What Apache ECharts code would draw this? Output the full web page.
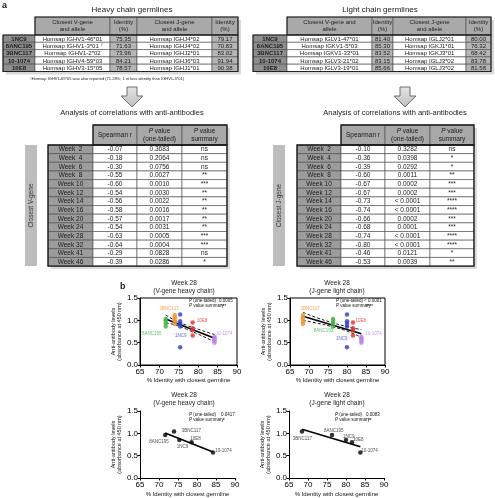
<!DOCTYPE html>
<html><head><meta charset="utf-8">
<script src="https://cdn.jsdelivr.net/npm/echarts@6/dist/echarts.min.js"></script>
<style>html,body{margin:0;padding:0;background:#fff}#c{width:495px;height:498px}</style>
</head><body><div id="c"></div>
<script>
// ---------- DATA ----------
const antibodies = ['1NC9', '8ANC195', '3BNC117', '10-1074', '10E8'];
const heavyV = ['Homsap IGHV1-46*01', 'Homsap IGHV1-3*01', 'Homsap IGHV1-2*02', 'Homsap IGHV4-59*03', 'Homsap IGHV3-15*05'];
const heavyVId = [75.35, 71.63, 73.96, 84.21, 78.57];
const heavyJ = ['Homsap IGHJ4*02', 'Homsap IGHJ4*02', 'Homsap IGHJ2*01', 'Homsap IGHJ6*03', 'Homsap IGHJ1*01'];
const heavyJId = [79.17, 70.83, 83.02, 91.94, 90.38];
const lightV = ['Homsap IGLV1-47*01', 'Homsap IGKV1-5*03', 'Homsap IGKV1-33*01', 'Homsap IGLV3-21*02', 'Homsap IGLV3-19*01'];
const lightVId = [81.40, 85.30, 83.52, 83.15, 85.66];
const lightJ = ['Homsap IGLJ2*01', 'Homsap IGKJ1*01', 'Homsap IGKJ3*01', 'Homsap IGLJ3*02', 'Homsap IGLJ3*02'];
const lightJId = [80.00, 76.32, 68.42, 83.78, 81.58];

const weeks = ['Week  2', 'Week  4', 'Week  6', 'Week  8', 'Week 10', 'Week 12', 'Week 14', 'Week 16', 'Week 20', 'Week 24', 'Week 28', 'Week 32', 'Week 41', 'Week 46'];
const vR = ['-0.07', '-0.18', '-0.30', '-0.55', '-0.60', '-0.54', '-0.56', '-0.58', '-0.57', '-0.54', '-0.63', '-0.64', '-0.29', '-0.39'];
const vP = ['0.3683', '0.2064', '0.0756', '0.0027', '0.0010', '0.0030', '0.0022', '0.0016', '0.0017', '0.0031', '0.0005', '0.0004', '0.0828', '0.0286'];
const vSum = ['ns', 'ns', 'ns', '**', '***', '**', '**', '**', '**', '**', '***', '***', 'ns', '*'];
const jR = ['-0.10', '-0.36', '-0.39', '-0.60', '-0.67', '-0.67', '-0.73', '-0.74', '-0.66', '-0.68', '-0.74', '-0.80', '-0.46', '-0.53'];
const jP = ['0.3282', '0.0398', '0.0292', '0.0011', '0.0002', '0.0002', '< 0.0001', '< 0.0001', '0.0002', '0.0001', '< 0.0001', '< 0.0001', '0.0121', '0.0039'];
const jSum = ['ns', '*', '*', '**', '***', '***', '****', '****', '***', '***', '****', '****', '*', '**'];

// week 28 replicate anti-antibody levels (absorbance), in antibody order
const rep1NC9 = [1.13, 0.98, 0.93, 0.86, 0.40];
const rep8ANC195 = [1.03, 0.99, 0.93, 0.86];
const rep3BNC117 = [1.12, 1.07, 1.03, 0.97, 0.92];
const rep101074 = [0.63, 0.60, 0.57, 0.53, 0.50];
const rep10E8 = [0.95, 0.82, 0.78, 0.66];
// week 28 mean levels, antibody order
const meanW28 = [0.85, 0.96, 1.04, 0.57, 0.80];

// regression fits: [y at min x, y at max x]
const fitTL = [1.03, 0.60];
const fitTR = [1.09, 0.70];
const fitBL = [1.01, 0.58];
const fitBR = [1.09, 0.70];
// 95% CI bands (x, y)
const ciTLx = [71.63, 74, 77, 80, 84.21];
const ciTLup = [1.12, 1.00, 0.89, 0.80, 0.68];
const ciTLlo = [0.94, 0.90, 0.80, 0.69, 0.52];
const ciTRx = [68.42, 72, 76, 80, 83.78];
const ciTRup = [1.18, 1.06, 0.95, 0.86, 0.79];
const ciTRlo = [1.00, 0.94, 0.86, 0.76, 0.62];

const pTL = ['0.0005', '***'];
const pTR = ['< 0.0001', '****'];
const pBL = ['0.0417', '*'];
const pBR = ['0.0083', '**'];

// ---------- STYLE ----------
const FONT = '"Liberation Sans", Arial, sans-serif';
const abColor = {'1NC9': '#2e3fc6', '8ANC195': '#3cb43c', '3BNC117': '#f29330', '10-1074': '#b983ea', '10E8': '#e1302c'};
const reps = {'1NC9': rep1NC9, '8ANC195': rep8ANC195, '3BNC117': rep3BNC117, '10-1074': rep101074, '10E8': rep10E8};

// label anchor positions (data coords) for antibody names
const labTL = {'3BNC117': [72.5, 1.26], '8ANC195': [68.0, 0.71], '1NC9': [75.5, 0.66], '10E8': [81.0, 0.98], '10-1074': [86.7, 0.71]};
const labTR = {'3BNC117': [70.3, 1.27], '8ANC195': [73.8, 0.76], '1NC9': [78.6, 0.59], '10E8': [83.6, 0.98], '10-1074': [87.0, 0.70]};
const labBL = {'3BNC117': [78.5, 1.06], '8ANC195': [70.0, 0.82], '1NC9': [76.2, 0.69], '10E8': [79.6, 0.88], '10-1074': [87.0, 0.62]};
const labBR = {'3BNC117': [68.5, 0.88], '8ANC195': [76.8, 1.06], '1NC9': [80.7, 0.93], '10E8': [83.2, 0.86], '10-1074': [86.2, 0.62]};

// ---------- GRAPHIC HELPERS ----------
function txt(x, y, text, size, o) {
  o = o || {};
  const st = {text: text, fontSize: size, fontFamily: FONT, fill: o.fill || '#1a1a1a',
    align: o.align || 'center', verticalAlign: o.va || 'middle',
    fontWeight: o.bold ? 'bold' : 'normal', fontStyle: o.italic ? 'italic' : 'normal',
    lineHeight: o.lh || Math.round(size * 1.15)};
  if (o.rich) st.rich = o.rich;
  return {type: 'text', x: x, y: y, rotation: o.rot || 0, silent: true, z: 10, style: st};
}
function rect(x, y, w, h, fill, stroke, lw, z) {
  return {type: 'rect', silent: true, z: z || 5, shape: {x: x, y: y, width: w, height: h},
    style: {fill: fill, stroke: stroke || null, lineWidth: lw || 0}};
}
function richItal(size) {
  return {i: {fontStyle: 'italic', fontSize: size, fontFamily: FONT, fill: '#1a1a1a'},
          n: {fontSize: size, fontFamily: FONT, fill: '#1a1a1a'}};
}

const G = [];
// panel letters
G.push(txt(2, 6, 'a', 9, {bold: true, align: 'left'}));
G.push(txt(120, 287, 'b', 9, {bold: true, align: 'left'}));

function germTable(edges, yTop, headH, rowH, headers, colV, colVId, colJ, colJId, fs) {
  const x0 = edges[0], x1 = edges[5];
  const nRows = antibodies.length;
  const yBody = yTop + headH;
  // shadow
  G.push(rect(edges[1] + 3, yTop + 3, x1 - edges[1], headH, '#d8d8d8', null, 0, 2));
  G.push(rect(x0 + 3, yBody + 3, x1 - x0, rowH * nRows, '#d8d8d8', null, 0, 2));
  // header
  for (let c = 1; c <= 4; c++) {
    G.push(rect(edges[c], yTop, edges[c + 1] - edges[c], headH, '#a9a9a9', '#4a4a4a', 0.6));
    G.push(txt((edges[c] + edges[c + 1]) / 2, yTop + headH / 2, headers[c - 1], fs, {fill: '#222', lh: fs + 1}));
  }
  for (let r = 0; r < nRows; r++) {
    const y = yBody + r * rowH;
    const cells = [antibodies[r], colV[r], colVId[r].toFixed(2), colJ[r], colJId[r].toFixed(2)];
    const fills = ['#8e8e8e', '#ffffff', '#b5b5b5', '#ffffff', '#b5b5b5'];
    for (let c = 0; c < 5; c++) {
      G.push(rect(edges[c], y, edges[c + 1] - edges[c], rowH, fills[c], '#4a4a4a', 0.6));
      let t = cells[c];
      const o = {fill: '#1a1a1a'};
      if (c === 0) { o.bold = true; }
      if (c === 1 && t === 'Homsap IGHV1-3*01') {
        o.rich = {n: {fontSize: fs, fontFamily: FONT, fill: '#1a1a1a'}, s: {fontSize: fs - 2, fontFamily: FONT, fill: '#1a1a1a', verticalAlign: 'top'}};
        t = '{n|' + t + ' }{s|#}';
      }
      G.push(txt((edges[c] + edges[c + 1]) / 2, y + rowH / 2 + 0.3, t, fs, o));
    }
  }
  G.push(rect(x0, yBody, x1 - x0, rowH * nRows, null, '#222', 1.1, 6));
  G.push(rect(edges[1], yTop, x1 - edges[1], headH, null, '#222', 1.1, 6));
}

const heavyEdges = [3, 35, 110, 137, 212, 238];
const lightEdges = [253, 287, 372, 393, 466, 491];
G.push(txt(132, 10, 'Heavy chain germlines', 8));
G.push(txt(380, 10, 'Light chain germlines', 8));
germTable(heavyEdges, 17, 18, 7.3, ['Closest V-gene\nand allele', 'Identity\n(%)', 'Closest J-gene\nand allele', 'Identity\n(%)'],
  heavyV, heavyVId, heavyJ, heavyJId, 6);
germTable(lightEdges, 17, 18, 7.3, ['Closest V-gene and\nallele', 'Identity\n(%)', 'Closest J-gene\nand allele', 'Identity\n(%)'],
  lightV, lightVId, lightJ, lightJId, 6);
// footnote
G.push(txt(30, 79, '{s|#}{n|Homsap IGHV1-69*05 was also reported (71.28%; 1 nt less identity than IGHV1-3*01)}', 4, {align: 'left',
  rich: {n: {fontSize: 4, fontFamily: FONT, fill: '#222'}, s: {fontSize: 3, fontFamily: FONT, fill: '#222'}}}));

// arrows
function arrow(cx, y0) {
  G.push({type: 'polygon', silent: true, z: 5, shape: {points: [[cx - 5, y0], [cx + 5, y0], [cx + 5, y0 + 9], [cx + 11, y0 + 9], [cx, y0 + 20], [cx - 11, y0 + 9], [cx - 5, y0 + 9]]},
    style: {fill: {type: 'linear', x: 0, y: 0, x2: 0, y2: 1, colorStops: [{offset: 0, color: '#e6e6e6'}, {offset: 1, color: '#bdbdbd'}]}, stroke: '#6e6e6e', lineWidth: 1}});
}
arrow(132, 87);
arrow(405, 87);
G.push(txt(132, 113, 'Analysis of correlations with anti-antibodies', 7.5));
G.push(txt(395, 113, 'Analysis of correlations with anti-antibodies', 7.5));

function corrTable(barX, edges, R, P, S, barLabel) {
  const yTop = 125, headH = 20, rowH = 8.65, n = weeks.length;
  const yBody = yTop + headH;
  const fs = 6.5;
  // side bar
  G.push(rect(barX, yBody, 12, rowH * n, '#bdbdbd', null, 0, 4));
  G.push(txt(barX + 6, yBody + rowH * n / 2, barLabel, 6.5, {rot: Math.PI / 2, fill: '#333'}));
  // shadows
  G.push(rect(edges[1] + 3, yTop + 3, edges[4] - edges[1], headH, '#dcdcdc', null, 0, 2));
  G.push(rect(edges[0] + 3, yBody + 3, edges[4] - edges[0], rowH * n, '#dcdcdc', null, 0, 2));
  const heads = ['Spearman r', '{i|P}{n| value}\n{n|(one-tailed)}', '{i|P}{n| value}\n{n|summary}'];
  for (let c = 1; c <= 3; c++) {
    G.push(rect(edges[c], yTop, edges[c + 1] - edges[c], headH, '#a8a8a8', '#4a4a4a', 0.6));
    const o = {lh: 8};
    if (c > 1) o.rich = richItal(fs);
    G.push(txt((edges[c] + edges[c + 1]) / 2, yTop + headH / 2, heads[c - 1], fs, o));
  }
  for (let r = 0; r < n; r++) {
    const y = yBody + r * rowH;
    const cells = [weeks[r], R[r], P[r], S[r]];
    for (let c = 0; c < 4; c++) {
      G.push(rect(edges[c], y, edges[c + 1] - edges[c], rowH, c === 0 ? '#9c9c9c' : '#ffffff', '#4a4a4a', 0.6));
      G.push(txt((edges[c] + edges[c + 1]) / 2, y + rowH / 2 + 0.3, cells[c], fs, {fill: '#1a1a1a'}));
    }
  }
  G.push(rect(edges[0], yBody, edges[4] - edges[0], rowH * n, null, '#1a1a1a', 1.3, 6));
  G.push(rect(edges[1], yTop, edges[4] - edges[1], headH, null, '#1a1a1a', 1.3, 6));
}
corrTable(25, [48, 93, 137, 182, 227], vR, vP, vSum, 'Closest V-gene');
corrTable(273, [297, 341, 385, 430, 474], jR, jP, jSum, 'Closest J-gene');

// plot titles
function plotTitle(cx, y, sub) {
  G.push(txt(cx, y, 'Week 28', 6.5));
  G.push(txt(cx, y + 8, sub, 6.5));
}
plotTitle(184, 283, '(V-gene heavy chain)');
plotTitle(337, 283, '(J-gene light chain)');
plotTitle(184, 395, '(V-gene heavy chain)');
plotTitle(337, 395, '(J-gene light chain)');

// P annotations
function pAnno(x, xv, y, p) {
  const rich = {i: {fontStyle: 'italic', fontSize: 4.5, fontFamily: FONT, fill: '#111'}, n: {fontSize: 4.5, fontFamily: FONT, fill: '#111'}};
  G.push(txt(x, y, '{i|P}{n| (one-tailed)}', 4.5, {align: 'left', rich: rich}));
  G.push(txt(x, y + 5, '{i|P}{n| value summary}', 4.5, {align: 'left', rich: rich}));
  G.push(txt(xv, y, p[0], 4.5, {align: 'left', fill: '#111'}));
  G.push(txt(xv + 2, y + 5.5, p[1], 4.5, {align: 'left', fill: '#111'}));
}
pAnno(189, 219, 301, pTL);
pAnno(336, 364, 301, pTR);
pAnno(189, 221, 415, pBL);
pAnno(335, 366, 415, pBR);

// ---------- CHART ----------
const grids = [
  {left: 140, top: 298, width: 97, height: 67, show: true, borderColor: '#000', borderWidth: 1},
  {left: 290, top: 298, width: 95, height: 67, show: true, borderColor: '#000', borderWidth: 1},
  {left: 140, top: 411, width: 95, height: 67},
  {left: 289, top: 411, width: 95, height: 67}
];
function xAx(i, gap) {
  return {gridIndex: i, type: 'value', min: 65, max: 90, interval: 5,
    axisLine: {show: true, lineStyle: {color: '#000', width: 1}},
    axisTick: {show: true, length: 2.5, lineStyle: {color: '#000'}},
    axisLabel: {fontSize: 8, color: '#000', margin: 3, fontFamily: FONT},
    splitLine: {show: false},
    name: '% Identity with closest germline', nameLocation: 'middle', nameGap: gap,
    nameTextStyle: {fontSize: 6, color: '#111', fontFamily: FONT}};
}
function yAx(i) {
  return {gridIndex: i, type: 'value', min: 0, max: 1.5, interval: 0.5,
    axisLine: {show: true, lineStyle: {color: '#000', width: 1}},
    axisTick: {show: true, length: 2.5, lineStyle: {color: '#000'}},
    axisLabel: {fontSize: 8, color: '#000', margin: 2, fontFamily: FONT, formatter: v => v.toFixed(1)},
    splitLine: {show: false},
    name: 'Anti-antibody levels\n(absorbance at 450 nm)', nameLocation: 'middle', nameGap: 15,
    nameTextStyle: {fontSize: 5.5, color: '#111', fontFamily: FONT, lineHeight: 6.5}};
}

const series = [];
function fitLine(gi, xs, fit) {
  const xmin = Math.min.apply(null, xs), xmax = Math.max.apply(null, xs);
  series.push({type: 'line', xAxisIndex: gi, yAxisIndex: gi, data: [[xmin, fit[0]], [xmax, fit[1]]],
    symbol: 'none', silent: true, z: 3, lineStyle: {color: '#000', width: 1.6}});
}
function ciLine(gi, xs, ys) {
  series.push({type: 'line', xAxisIndex: gi, yAxisIndex: gi, data: xs.map((x, k) => [x, ys[k]]),
    symbol: 'none', smooth: 0.4, silent: true, z: 3, lineStyle: {color: '#000', width: 0.9, type: [3, 2]}});
}
function labels(gi, lab, colored) {
  series.push({type: 'scatter', xAxisIndex: gi, yAxisIndex: gi, symbolSize: 0, silent: true, z: 6,
    data: antibodies.map(a => ({name: a, value: lab[a], label: {color: colored ? abColor[a] : '#222'}})),
    label: {show: true, position: 'inside', formatter: '{b}', fontSize: 4.5, fontFamily: FONT}});
}
// top-left
antibodies.forEach((a, i) => {
  series.push({type: 'scatter', xAxisIndex: 0, yAxisIndex: 0, symbolSize: 4.5, silent: true, z: 4,
    itemStyle: {color: abColor[a]}, data: reps[a].map(v => [heavyVId[i], v])});
});
ciLine(0, ciTLx, ciTLup); ciLine(0, ciTLx, ciTLlo); fitLine(0, heavyVId, fitTL); labels(0, labTL, true);
// top-right
antibodies.forEach((a, i) => {
  series.push({type: 'scatter', xAxisIndex: 1, yAxisIndex: 1, symbolSize: 4.5, silent: true, z: 4,
    itemStyle: {color: abColor[a]}, data: reps[a].map(v => [lightJId[i], v])});
});
ciLine(1, ciTRx, ciTRup); ciLine(1, ciTRx, ciTRlo); fitLine(1, lightJId, fitTR); labels(1, labTR, true);
// bottom-left
series.push({type: 'scatter', xAxisIndex: 2, yAxisIndex: 2, symbolSize: 4.5, silent: true, z: 4,
  itemStyle: {color: '#000'}, data: antibodies.map((a, i) => [heavyVId[i], meanW28[i]])});
fitLine(2, heavyVId, fitBL); labels(2, labBL, false);
// bottom-right
series.push({type: 'scatter', xAxisIndex: 3, yAxisIndex: 3, symbolSize: 4.5, silent: true, z: 4,
  itemStyle: {color: '#000'}, data: antibodies.map((a, i) => [lightJId[i], meanW28[i]])});
fitLine(3, lightJId, fitBR); labels(3, labBR, false);

const chart = echarts.init(document.getElementById('c'), null, {renderer: 'canvas', width: 495, height: 498});
chart.setOption({
  backgroundColor: '#fff',
  animation: false,
  textStyle: {fontFamily: FONT},
  grid: grids,
  xAxis: [xAx(0, 12), xAx(1, 12), xAx(2, 13), xAx(3, 13)],
  yAxis: [yAx(0), yAx(1), yAx(2), yAx(3)],
  series: series,
  graphic: G
});
</script>
</body></html>
